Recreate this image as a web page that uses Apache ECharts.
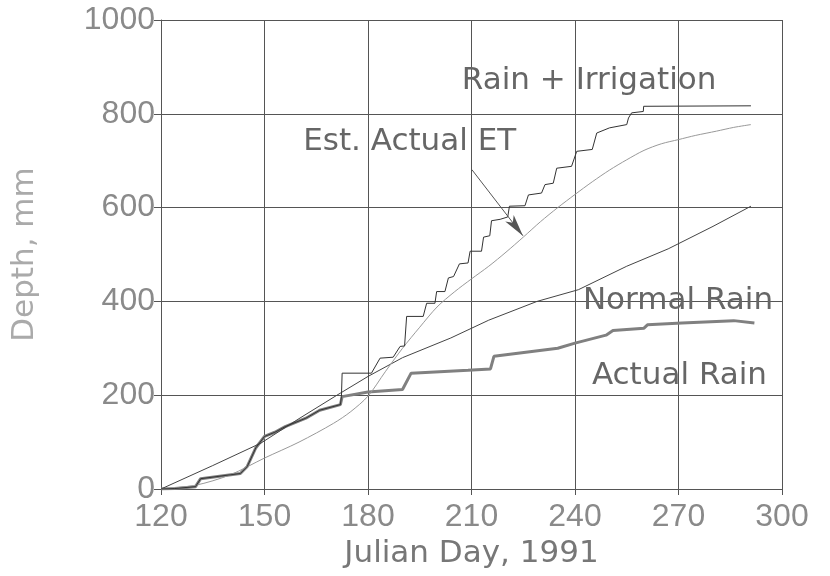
<!DOCTYPE html>
<html><head><meta charset="utf-8">
<script src="https://cdn.jsdelivr.net/npm/echarts@6/dist/echarts.min.js"></script>
<style>html,body{margin:0;padding:0;background:#fff}#c{width:830px;height:576px}</style>
</head><body><div id="c"></div>
<script>
// Julian day vs cumulative depth (mm)
const xTicks = [120, 150, 180, 210, 240, 270, 300];
const yTicks = [0, 200, 400, 600, 800, 1000];

const rainIrrigation = [
  [120,0],[124,1],[130,5],[131.5,22],[143,33],[145,48],[147.5,88],[150,112],[153,121],[156,133],
  [162,151],[166,168],[172,180],[172.3,197],[172.5,247],[181,247],[183.5,279],[187.3,281],
  [189.3,304],[190.6,305],[191.2,368],[196,368],[197,396],[199.4,396],[199.9,421],[202.3,421],
  [203.3,450],[204.8,453],[206.5,480],[209,482],[209.6,507],[212.9,507],[213.5,537],[215.3,540],
  [215.8,572],[218.3,575],[220.5,580],[221,603],[225.5,604],[226.5,627],[230.3,631],[231.3,649],
  [233.7,652],[234.7,684],[239,688],[240.5,720],[245,724],[246.3,759],[250,770],[255,777],
  [255.5,791],[256.4,802],[259.8,805],[259.9,816],[291,817]
];
const actualRain = [
  [120,0],[124,1],[130,5],[131.5,22],[143,33],[145,48],[147.5,88],[150,112],[153,121],[156,133],
  [162,151],[166,168],[172,180],[172.5,197],[180,207],[190,212],[192.5,247],[209,253],[215.5,256],
  [216.5,283],[235,300],[240,311],[249,328],[251,338],[260,343],[261,350],[271,354],[286,359],[292,354]
];
const normalRain = [
  [120,0],[135,50],[149,98],[160,150],[171,200],[180,240],[190,280],[204,322],[215,360],
  [229,400],[241,425],[255,475],[267,512],[280,560],[291,603]
];
const estActualET = [
  [120,0],[130,8],[140,30],[150,66],[160,100],[170,140],[175,165],[180,198],[185,250],[190,300],
  [195,345],[200,388],[205,420],[210,448],[215,475],[220,505],[225,537],[230,570],[235,600],
  [240,628],[245,655],[250,680],[255,702],[260,722],[265,736],[270,745],[275,754],[281,763],
  [286,771],[291,777]
];
const labels = [
  {text: 'Rain + Irrigation', at: [207.2, 871]},
  {text: 'Est. Actual ET', at: [161.2, 739]},
  {text: 'Normal Rain', at: [242.3, 401]},
  {text: 'Actual Rain', at: [244.9, 241]}
];
const leader = [[210.1, 681], [224.9, 540]];

const chart = echarts.init(document.getElementById('c'), null, {renderer: 'canvas'});
const gridColor = '#555';
const option = {
  animation: false,
  backgroundColor: '#fff',
  grid: {left: 161, right: 48, top: 20, bottom: 87},
  xAxis: {
    type: 'value', min: xTicks[0], max: xTicks[xTicks.length - 1], interval: 30,
    name: 'Julian Day, 1991', nameLocation: 'middle', nameGap: 49,
    nameTextStyle: {fontFamily: 'DejaVu Sans', fontSize: 31, color: '#777'},
    axisLine: {show: true, lineStyle: {color: gridColor, width: 1}},
    axisTick: {show: true, length: 6, lineStyle: {color: gridColor}},
    axisLabel: {fontFamily: 'Liberation Sans', fontSize: 32, color: '#8a8a8a', margin: 12,
      formatter: v => String(v)},
    splitLine: {show: true, lineStyle: {color: gridColor, width: 1}}
  },
  yAxis: {
    type: 'value', min: yTicks[0], max: yTicks[yTicks.length - 1], interval: 200,
    name: 'Depth, mm', nameLocation: 'middle', nameGap: 121, nameRotate: 90,
    nameTextStyle: {fontFamily: 'DejaVu Sans', fontSize: 31, color: '#aaa'},
    axisLine: {show: true, lineStyle: {color: gridColor, width: 1}},
    axisTick: {show: true, length: 7, lineStyle: {color: gridColor}},
    axisLabel: {fontFamily: 'Liberation Sans', fontSize: 32, color: '#8a8a8a', margin: 6,
      formatter: v => String(v)},
    splitLine: {show: true, lineStyle: {color: gridColor, width: 1}}
  },
  series: [
    {name: 'Actual Rain', type: 'line', data: actualRain, showSymbol: false, symbol: 'none',
     lineStyle: {color: '#808080', width: 3}, z: 2},
    {name: 'Normal Rain', type: 'line', data: normalRain, showSymbol: false, symbol: 'none',
     lineStyle: {color: '#444', width: 1}, z: 3},
    {name: 'Est. Actual ET', type: 'line', data: estActualET, showSymbol: false, symbol: 'none',
     smooth: 0.3, lineStyle: {color: '#999', width: 1}, z: 3,
     markLine: {silent: true, animation: false, label: {show: false},
       lineStyle: {color: '#555', width: 1, type: 'solid'},
       data: [[{coord: leader[0], symbol: 'none'}, {coord: leader[1], symbol: 'arrow', symbolSize: [8, 22]}]]}},
    {name: 'Rain + Irrigation', type: 'line', data: rainIrrigation, showSymbol: false, symbol: 'none',
     lineStyle: {color: '#333', width: 1}, z: 4}
  ]
};
chart.setOption(option);
const g = labels.map(l => {
  const p = chart.convertToPixel({gridIndex: 0}, l.at);
  return {type: 'text', x: p[0], y: p[1], z: 10,
    style: {text: l.text, fill: '#666', font: '31px "DejaVu Sans"', textAlign: 'left', textVerticalAlign: 'middle'}};
});
chart.setOption({graphic: g});
</script></body></html>
